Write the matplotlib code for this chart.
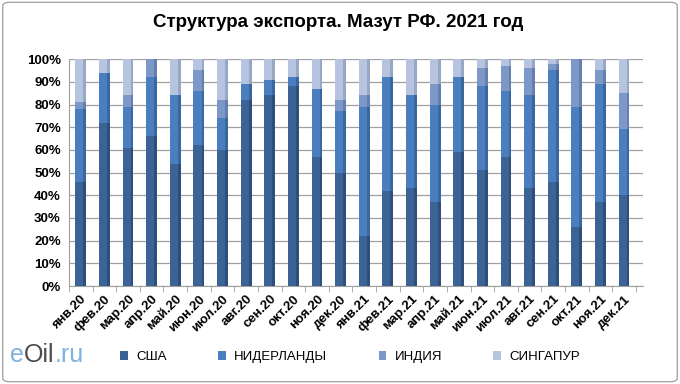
import numpy as np
import matplotlib.pyplot as plt
from matplotlib.patches import FancyBboxPatch
from matplotlib.ticker import FuncFormatter
from matplotlib.offsetbox import TextArea, HPacker, AnchoredOffsetbox

months = ["янв.20", "фев.20", "мар.20", "апр.20", "май.20", "июн.20", "июл.20", "авг.20",
          "сен.20", "окт.20", "ноя.20", "дек.20", "янв.21", "фев.21", "мар.21", "апр.21",
          "май.21", "июн.21", "июл.21", "авг.21", "сен.21", "окт.21", "ноя.21", "дек.21"]

# shares, %
usa = [46, 72, 61, 66, 54, 62, 60, 82, 84, 88, 57, 50, 22, 42, 43, 37, 59, 51, 57, 43, 46, 26, 37, 40]
nld = [32, 22, 18, 26, 30, 24, 14, 7, 7, 4, 30, 27, 57, 50, 41, 43, 33, 37, 29, 41, 49, 53, 52, 29]
ind = [3, 0, 5, 8, 0, 9, 8, 0, 0, 0, 0, 5, 5, 0, 0, 9, 0, 8, 11, 12, 3, 21, 6, 16]
sgp = [19, 6, 16, 0, 16, 5, 18, 11, 9, 8, 13, 18, 16, 8, 16, 11, 8, 4, 3, 4, 2, 0, 5, 15]

names = ["США", "НИДЕРЛАНДЫ", "ИНДИЯ", "СИНГАПУР"]
colors = ["#3B6396", "#4A7EBF", "#7C98C9", "#B6C4DF"]
sides = ["#2E4F7A", "#3A679E", "#6580AE", "#97A8C6"]

plt.rcParams['font.family'] = ['Liberation Sans', 'DejaVu Sans']

fig = plt.figure(figsize=(6.8, 3.84), dpi=100)
fig.patches.append(FancyBboxPatch((0.004, 0.006), 0.992, 0.988, boxstyle="round,pad=0,rounding_size=0.01",
                                  transform=fig.transFigure, fill=False, edgecolor="#A6A6A6", linewidth=1.0))

ax = fig.add_axes([0.1015, 0.255, 0.844, 0.591])
x = np.arange(len(months))
w = 0.46
bottom = np.zeros(len(months))
handles = []
for vals, c, sc, n in zip([usa, nld, ind, sgp], colors, sides, names):
    vals = np.array(vals, dtype=float)
    h = ax.bar(x, vals, w, bottom=bottom, color=c, label=n, zorder=3)
    ax.bar(x + w / 2 - 0.06, vals, 0.12, bottom=bottom, color=sc, zorder=4)
    handles.append(h)
    bottom += vals

ax.set_xlim(-0.5, 23.8)
ax.set_ylim(0, 100)
ax.set_yticks(np.arange(0, 101, 10))
ax.yaxis.set_major_formatter(FuncFormatter(lambda v, p: f"{v:.0f}%"))
ax.grid(axis="y", color="#A0A0A0", linewidth=0.9, zorder=0)
ax.set_xticks(x)
ax.set_xticklabels(months, rotation=45, ha="right", rotation_mode="anchor", fontsize=9.5, fontweight="bold")
ax.set_xticks(np.arange(-0.5, 24, 1), minor=True)
ax.tick_params(axis="x", which="major", length=0, pad=5)
ax.tick_params(axis="x", which="minor", length=4, color="#A0A0A0")
ax.tick_params(axis="y", length=0, labelsize=9.5, pad=6)
for t in ax.get_yticklabels():
    t.set_fontweight("bold")
for s in ["top", "right"]:
    ax.spines[s].set_visible(False)
ax.spines["left"].set_color("#A0A0A0")
ax.spines["bottom"].set_color("#A0A0A0")

fig.text(0.497, 0.942, "Структура экспорта. Мазут РФ. 2021 год", ha="center", va="center",
         fontsize=13.5, fontweight="bold")

fig.legend(handles=handles, labels=names, loc="center left", bbox_to_anchor=(0.177, 0.07), ncol=4,
           frameon=False, fontsize=9.5, handlelength=0.6, handleheight=0.6, columnspacing=3.9,
           handletextpad=0.6, borderpad=0, borderaxespad=0)

logo = HPacker(children=[TextArea("e", textprops=dict(color="#7FB2E0", fontsize=18)),
                         TextArea("Oil", textprops=dict(color="#4D4D4D", fontsize=18)),
                         TextArea(".ru", textprops=dict(color="#7FB2E0", fontsize=18))],
               align="baseline", pad=0, sep=0)
fig.add_artist(AnchoredOffsetbox(loc="center left", child=logo, pad=0, frameon=False,
                                 bbox_to_anchor=(0.015, 0.075), bbox_transform=fig.transFigure,
                                 borderpad=0))

fig.savefig("out.png", dpi=100)
